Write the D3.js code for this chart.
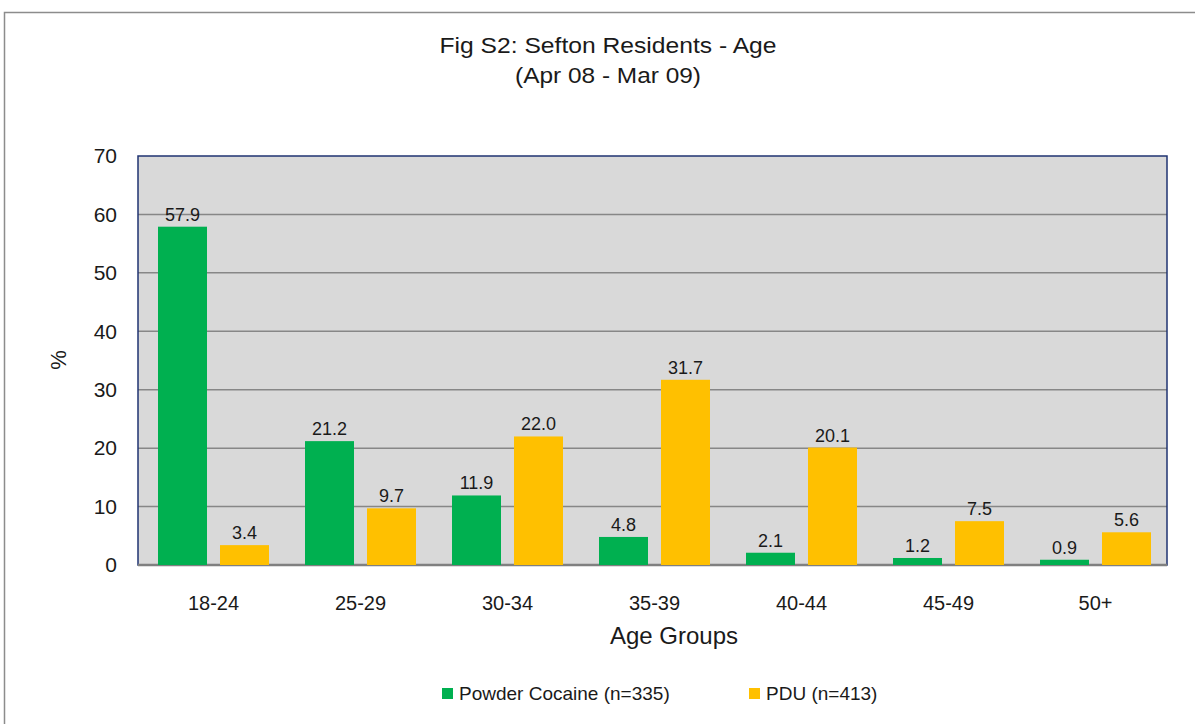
<!DOCTYPE html>
<html>
<head>
<meta charset="utf-8">
<script src="https://cdn.jsdelivr.net/npm/d3@7"></script>
<style>
  body { margin: 0; background: #fff; }
  text { font-family: "Liberation Sans", Arial, sans-serif; fill: #1a1a1a; }
</style>
</head>
<body>
<script>
// chart data
var ageGroups = ["18-24", "25-29", "30-34", "35-39", "40-44", "45-49", "50+"];
var cocaineValues = [57.9, 21.2, 11.9, 4.8, 2.1, 1.2, 0.9];
var pduValues = [3.4, 9.7, 22.0, 31.7, 20.1, 7.5, 5.6];
var seriesNames = ["Powder Cocaine (n=335)", "PDU (n=413)"];
var seriesColors = ["#00b050", "#ffc000"];
var yTicks = [0, 10, 20, 30, 40, 50, 60, 70];

var width = 1195, height = 724;
var svg = d3.select("body").append("svg")
    .attr("width", width)
    .attr("height", height);

// outer chart border
svg.append("rect")
    .attr("x", 4.5).attr("y", 12.5)
    .attr("width", 1200).attr("height", 720)
    .attr("fill", "#fff")
    .attr("stroke", "#8c8c8c")
    .attr("stroke-width", 1.5);

var plot = { left: 138, right: 1167, top: 156, bottom: 565 };

var x = d3.scaleBand()
    .domain(ageGroups)
    .range([plot.left, plot.right]);

var y = d3.scaleLinear()
    .domain([0, 70])
    .range([plot.bottom, plot.top]);

// plot background
svg.append("rect")
    .attr("x", plot.left).attr("y", plot.top)
    .attr("width", plot.right - plot.left)
    .attr("height", plot.bottom - plot.top)
    .attr("fill", "#d9d9d9");

// gridlines
svg.append("g")
    .selectAll("line")
    .data(yTicks.filter(function (d) { return d > 0 && d < 70; }))
    .enter().append("line")
    .attr("x1", plot.left).attr("x2", plot.right)
    .attr("y1", function (d) { return y(d); })
    .attr("y2", function (d) { return y(d); })
    .attr("stroke", "#878787")
    .attr("stroke-width", 1.5);

// plot border
svg.append("rect")
    .attr("x", plot.left).attr("y", plot.top)
    .attr("width", plot.right - plot.left)
    .attr("height", plot.bottom - plot.top)
    .attr("fill", "none")
    .attr("stroke", "#1f3372")
    .attr("stroke-width", 1.5);

// bottom axis line
svg.append("line")
    .attr("x1", plot.left).attr("x2", plot.right)
    .attr("y1", plot.bottom).attr("y2", plot.bottom)
    .attr("stroke", "#808080")
    .attr("stroke-width", 2.5);

// y tick labels
svg.append("g")
    .selectAll("text")
    .data(yTicks)
    .enter().append("text")
    .attr("x", plot.left - 21)
    .attr("y", function (d) { return y(d); })
    .attr("dy", "0.35em")
    .attr("text-anchor", "end")
    .style("font-size", "21px")
    .text(function (d) { return d; });

// bars
var barW = 49, gap = 13;
var seriesValues = [cocaineValues, pduValues];
seriesValues.forEach(function (vals, si) {
    var g = svg.append("g");
    var offset = 2 + (si === 0 ? -gap / 2 - barW : gap / 2);
    g.selectAll("rect")
        .data(vals)
        .enter().append("rect")
        .attr("x", function (d, i) { return x(ageGroups[i]) + x.bandwidth() / 2 + offset; })
        .attr("y", function (d) { return y(d); })
        .attr("width", barW)
        .attr("height", function (d) { return y(0) - y(d); })
        .attr("fill", seriesColors[si]);
    g.selectAll("text")
        .data(vals)
        .enter().append("text")
        .attr("x", function (d, i) { return x(ageGroups[i]) + x.bandwidth() / 2 + offset + barW / 2; })
        .attr("y", function (d) { return y(d) - 6; })
        .attr("text-anchor", "middle")
        .style("font-size", "18px")
        .text(function (d) { return d.toFixed(1); });
});

// category labels
svg.append("g")
    .selectAll("text")
    .data(ageGroups)
    .enter().append("text")
    .attr("x", function (d) { return x(d) + x.bandwidth() / 2 + 2; })
    .attr("y", 610)
    .attr("text-anchor", "middle")
    .style("font-size", "20px")
    .text(function (d) { return d; });

// axis titles
svg.append("text")
    .attr("x", 674)
    .attr("y", 644)
    .attr("text-anchor", "middle")
    .style("font-size", "24px")
    .text("Age Groups");

svg.append("text")
    .attr("transform", "translate(66,360) rotate(-90)")
    .attr("text-anchor", "middle")
    .style("font-size", "22px")
    .text("%");

// title (condensed face)
svg.append("text")
    .attr("x", 608).attr("y", 53)
    .attr("text-anchor", "middle")
    .attr("textLength", 337)
    .attr("lengthAdjust", "spacingAndGlyphs")
    .style("font-size", "22px")
    .text("Fig S2: Sefton Residents - Age");
svg.append("text")
    .attr("x", 608).attr("y", 83)
    .attr("text-anchor", "middle")
    .attr("textLength", 186)
    .attr("lengthAdjust", "spacingAndGlyphs")
    .style("font-size", "22px")
    .text("(Apr 08 - Mar 09)");

// legend
var legendX = [442, 749];
seriesNames.forEach(function (name, i) {
    svg.append("rect")
        .attr("x", legendX[i]).attr("y", 688)
        .attr("width", 11).attr("height", 11)
        .attr("fill", seriesColors[i]);
    svg.append("text")
        .attr("x", legendX[i] + 17).attr("y", 700)
        .style("font-size", "19px")
        .text(name);
});
</script>
</body>
</html>
